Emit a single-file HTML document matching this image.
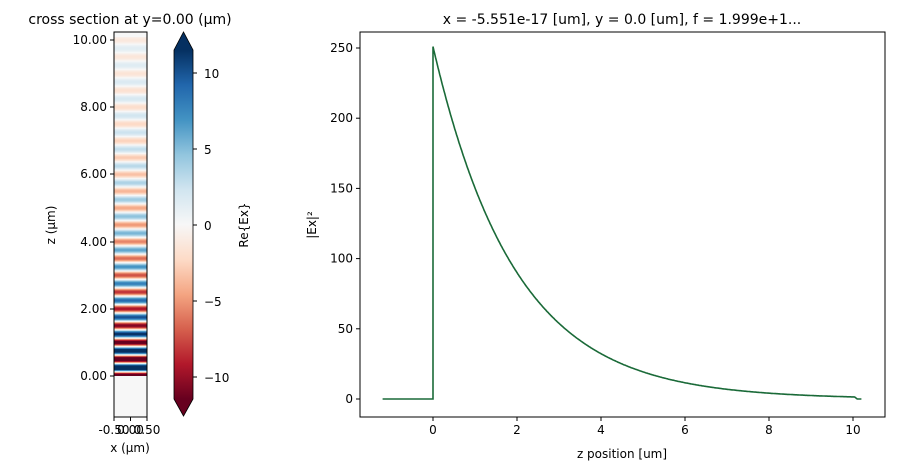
<!DOCTYPE html>
<html><head><meta charset="utf-8"><style>
body{margin:0;background:#fff;font-family:"DejaVu Sans","Liberation Sans",sans-serif}
svg text{font-family:"DejaVu Sans","Liberation Sans",sans-serif;font-size:12px;fill:#000}
</style></head><body>
<svg id="s" width="897" height="470" xmlns="http://www.w3.org/2000/svg">
<defs>
<linearGradient id="cb" x1="0" y1="1" x2="0" y2="0">
<stop offset="0" stop-color="#67001f"/><stop offset="0.1" stop-color="#b2182b"/><stop offset="0.2" stop-color="#d6604d"/><stop offset="0.3" stop-color="#f4a582"/><stop offset="0.4" stop-color="#fddbc7"/><stop offset="0.5" stop-color="#f7f7f7"/><stop offset="0.6" stop-color="#d1e5f0"/><stop offset="0.7" stop-color="#92c5de"/><stop offset="0.8" stop-color="#4393c3"/><stop offset="0.9" stop-color="#2166ac"/><stop offset="1" stop-color="#053061"/>
</linearGradient>
</defs>
<g id="stripes"></g>
<rect x="114" y="32" width="33" height="385" fill="none" stroke="#000" stroke-width="1"/>
<text x="130" y="24" text-anchor="middle" style="font-size:14px">cross section at y=0.00 (μm)</text>
<g text-anchor="end">
<line x1="110" y1="40" x2="114" y2="40" stroke="#000"/><text x="107" y="44">10.00</text>
<line x1="110" y1="107" x2="114" y2="107" stroke="#000"/><text x="107" y="111">8.00</text>
<line x1="110" y1="174" x2="114" y2="174" stroke="#000"/><text x="107" y="178">6.00</text>
<line x1="110" y1="242" x2="114" y2="242" stroke="#000"/><text x="107" y="246">4.00</text>
<line x1="110" y1="309" x2="114" y2="309" stroke="#000"/><text x="107" y="313">2.00</text>
<line x1="110" y1="376" x2="114" y2="376" stroke="#000"/><text x="107" y="380">0.00</text>
</g>
<text transform="translate(55,225) rotate(-90)" text-anchor="middle">z (μm)</text>
<line x1="114" y1="417" x2="114" y2="421" stroke="#000"/><line x1="130.5" y1="417" x2="130.5" y2="421" stroke="#000"/><line x1="147" y1="417" x2="147" y2="421" stroke="#000"/>
<text x="114" y="434" text-anchor="middle">-0.50</text><text x="130.5" y="434" text-anchor="middle">0.00</text><text x="147" y="434" text-anchor="middle">0.50</text>
<text x="130" y="452" text-anchor="middle">x (μm)</text>
<!-- colorbar -->
<rect x="174" y="50" width="19" height="349" fill="url(#cb)"/>
<polygon points="174,50 183.5,32 193,50" fill="#053061"/>
<polygon points="174,399 183.5,416 193,399" fill="#67001f"/>
<polygon points="174,50 183.5,32 193,50 193,399 183.5,416 174,399" fill="none" stroke="#000" stroke-width="0.8"/>
<g>
<line x1="193" y1="73" x2="197" y2="73" stroke="#000"/><text x="204" y="78">10</text>
<line x1="193" y1="149" x2="197" y2="149" stroke="#000"/><text x="204" y="154">5</text>
<line x1="193" y1="225" x2="197" y2="225" stroke="#000"/><text x="204" y="230">0</text>
<line x1="193" y1="301" x2="197" y2="301" stroke="#000"/><text x="204" y="306">−5</text>
<line x1="193" y1="377" x2="197" y2="377" stroke="#000"/><text x="204" y="382">−10</text>
</g>
<text transform="translate(248,225) rotate(-90)" text-anchor="middle">Re{Ex}</text>
<!-- right plot -->
<rect x="360" y="32" width="525" height="385" fill="none" stroke="#000"/>
<text x="622" y="24" text-anchor="middle" style="font-size:14px">x = -5.551e-17 [um], y = 0.0 [um], f = 1.999e+1...</text>
<g id="rt" text-anchor="end"></g>
<g id="bt" text-anchor="middle"></g>
<text transform="translate(316,225) rotate(-90)" text-anchor="middle">|Ex|²</text>
<text x="622" y="458" text-anchor="middle">z position [um]</text>
<path id="curve" fill="none" stroke="#1a6a38" stroke-width="1.6"/>
</svg>
<script>
var ns="http://www.w3.org/2000/svg",s=document.getElementById('stripes');
var cm=[[103,0,31],[178,24,43],[214,96,77],[244,165,130],[253,219,199],[247,247,247],[209,229,240],[146,197,222],[67,147,195],[33,102,172],[5,48,97]];
function col(v){var t=(v+11.5)/23;t=Math.max(0,Math.min(1,t))*10;var i=Math.min(9,Math.floor(t)),f=t-i;var c=cm[i].map(function(a,k){return Math.round(a+(cm[i+1][k]-a)*f)});return 'rgb('+c+')';}
for(var y=32;y<417;y++){var z=(376-(y+0.5))/33.6;var v=0;if(z>=0&&z<=10.1)v=15.8*Math.exp(-z/3.9)*Math.cos(2*Math.PI*z/0.5+Math.PI);
var r=document.createElementNS(ns,'rect');r.setAttribute('x',114);r.setAttribute('y',y);r.setAttribute('width',33);r.setAttribute('height',1.05);r.setAttribute('fill',col(v));s.appendChild(r);}
var rt=document.getElementById('rt'),bt=document.getElementById('bt'),h='';
for(var k=0;k<=250;k+=50){var yy=399-k*1.404;h+='<line x1="356" y1="'+yy+'" x2="360" y2="'+yy+'" stroke="#000"/><text x="353" y="'+(yy+4)+'">'+k+'</text>';}
rt.innerHTML=h;h='';
for(var k=0;k<=10;k+=2){var xx=433+k*42;h+='<line x1="'+xx+'" y1="417" x2="'+xx+'" y2="421" stroke="#000"/><text x="'+xx+'" y="434">'+k+'</text>';}
bt.innerHTML=h;
function X(z){return 433+z*42}function Y(v){return 399-v*1.404}
var d='M'+X(-1.2)+','+Y(0)+' L'+X(0)+','+Y(0)+' L'+X(0)+','+Y(251);
for(var z=0.02;z<=10.05;z+=0.02)d+=' L'+X(z).toFixed(1)+','+Y(251*Math.exp(-z/1.95)).toFixed(1);
d+=' L'+X(10.1)+','+Y(0)+' L'+X(10.2)+','+Y(0);
document.getElementById('curve').setAttribute('d',d);
</script>
</body></html>
